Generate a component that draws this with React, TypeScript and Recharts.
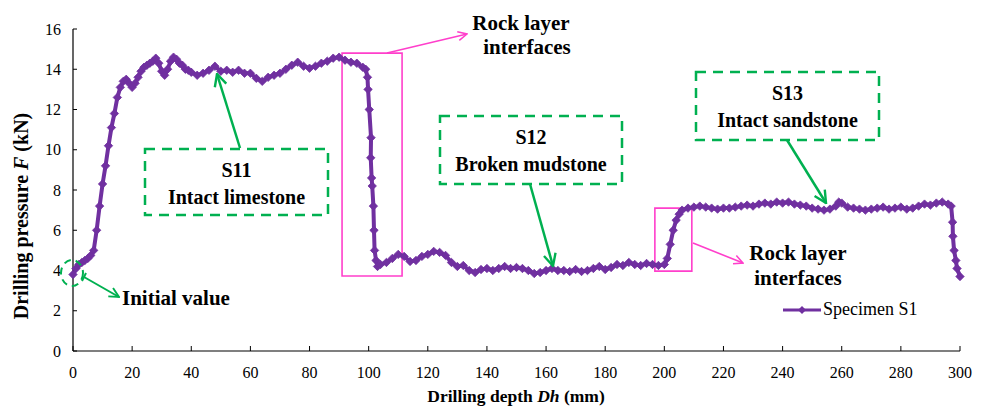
import React from 'react';
import { LineChart, Line, XAxis, YAxis, ReferenceArea, Legend } from 'recharts';

// drilling depth Dh (mm)
const depth = [
    0, 1, 2, 3, 4, 5, 6, 7, 8, 9, 10, 11, 12, 13, 14, 15, 16, 17, 18, 19, 20, 21, 22, 23, 24, 25, 26, 27, 28, 29,
    30, 31, 32, 33, 34, 35, 36, 37, 38, 39, 40, 42, 44, 46, 48, 50, 52, 54, 56, 58, 60, 62, 64, 66, 68, 70, 72,
    74, 76, 78, 80, 82, 84, 86, 88, 90, 92, 94, 96, 98, 99, 99.6, 99.8, 100.2, 100.8, 100.7, 101, 101.2, 101.6,
    101.8, 102, 102.5, 103, 104, 106, 108, 110, 112, 114, 116, 118, 120, 122, 124, 126, 128, 130, 132, 134, 136,
    138, 140, 142, 144, 146, 148, 150, 152, 154, 156, 158, 160, 162, 164, 166, 168, 170, 172, 174, 176, 178, 180,
    182, 184, 186, 188, 190, 192, 194, 196, 198, 200, 201, 202, 203, 204, 205, 206, 208, 210, 212, 214, 216, 218,
    220, 222, 224, 226, 228, 230, 232, 234, 236, 238, 240, 242, 244, 246, 248, 250, 252, 254, 256, 258, 259, 260,
    262, 264, 266, 268, 270, 272, 274, 276, 278, 280, 282, 284, 286, 288, 290, 292, 294, 296, 297, 297.5, 297.6,
    298, 298.6, 299, 300,
];

// drilling pressure F (kN), specimen S1
const pressure = [
    3.8, 4.1, 4.3, 4.4, 4.5, 4.6, 4.75, 5.0, 6.0, 7.2, 8.3, 9.2, 10.2, 11.1, 11.8, 12.6, 13.1, 13.4, 13.5, 13.3,
    13.1, 13.3, 13.6, 13.9, 14.1, 14.2, 14.3, 14.4, 14.55, 14.3, 13.9, 13.7, 14.0, 14.4, 14.6, 14.5, 14.3, 14.2,
    14.0, 13.95, 13.85, 13.7, 13.8, 13.95, 14.15, 13.9, 13.95, 13.85, 13.95, 13.8, 13.8, 13.55, 13.4, 13.6, 13.7,
    13.8, 14.0, 14.2, 14.35, 14.15, 14.05, 14.15, 14.3, 14.4, 14.55, 14.6, 14.45, 14.35, 14.3, 14.1, 14.0, 13.6,
    13.0, 12.0, 10.6, 9.6, 8.6, 8.2, 7.2, 6.0, 5.0, 4.5, 4.2, 4.3, 4.4, 4.6, 4.8, 4.7, 4.45, 4.5, 4.7, 4.8, 4.95,
    4.9, 4.75, 4.4, 4.2, 4.25, 4.0, 3.9, 4.05, 4.1, 4.0, 4.1, 4.2, 4.1, 4.15, 4.1, 4.0, 3.85, 3.9, 4.0, 4.1, 4.0,
    4.0, 3.95, 4.05, 3.95, 4.0, 4.1, 4.2, 4.05, 4.15, 4.3, 4.25, 4.4, 4.3, 4.25, 4.35, 4.3, 4.25, 4.3, 4.6, 5.3,
    6.0, 6.5, 6.8, 7.0, 7.1, 7.15, 7.2, 7.15, 7.1, 7.05, 7.1, 7.1, 7.15, 7.2, 7.25, 7.2, 7.3, 7.35, 7.3, 7.4,
    7.35, 7.4, 7.3, 7.25, 7.2, 7.1, 7.05, 7.0, 7.05, 7.2, 7.4, 7.35, 7.15, 7.1, 7.05, 7.0, 7.05, 7.1, 7.15, 7.05,
    7.1, 7.15, 7.05, 7.1, 7.2, 7.3, 7.25, 7.35, 7.4, 7.3, 7.2, 6.4, 5.7, 5.0, 4.5, 4.1, 3.7,
];

const xTicks = [0, 20, 40, 60, 80, 100, 120, 140, 160, 180, 200, 220, 240, 260, 280, 300];
const yTicks = [0, 2, 4, 6, 8, 10, 12, 14, 16];

const seriesName = 'Specimen S1';
const data = depth.map((d, i) => ({ depth: d, pressure: pressure[i] }));

const PURPLE = '#7030A0';
const GREEN = '#00B050';
const PINK = '#FF3FCB';
const FONT = 'Liberation Serif, Times New Roman, serif';

const Diamond = (props: any) => {
    const { cx, cy } = props;
    if (cx == null || cy == null) return null;
    const s = 4.2;
    return (
        <polygon
            points={`${cx},${cy - s} ${cx + s},${cy} ${cx},${cy + s} ${cx - s},${cy}`}
            fill={PURPLE}
            stroke={PURPLE}
            strokeWidth={0.8}
        />
    );
};

const LegendBox = () => (
    <div style={{ display: 'flex', alignItems: 'center', fontFamily: FONT, fontSize: 18, color: '#000' }}>
        <svg width={40} height={12}>
            <line x1={1} y1={6} x2={39} y2={6} stroke={PURPLE} strokeWidth={3} />
            <polygon points="20,2 24,6 20,10 16,6" fill={PURPLE} />
        </svg>
        <span style={{ marginLeft: 1 }}>{seriesName}</span>
    </div>
);

const Box = ({ x, y, w, h, l1, l2 }: any) => (
    <g>
        <rect x={x} y={y} width={w} height={h} fill="#fff" stroke={GREEN} strokeWidth={2.5} strokeDasharray="10 7" />
        <text x={x + w / 2} y={y + 28} textAnchor="middle" fontSize={20} fontWeight="bold">
            {l1}
        </text>
        <text x={x + w / 2} y={y + 55} textAnchor="middle" fontSize={20} fontWeight="bold">
            {l2}
        </text>
    </g>
);

// annotations drawn on top of the plot (pixel positions)
const Overlay = () => (
    <svg
        width={986}
        height={412}
        style={{ position: 'absolute', left: 0, top: 0, pointerEvents: 'none', fontFamily: FONT }}
    >
        <defs>
            <marker id="ag" viewBox="0 0 10 10" refX={9} refY={5} markerWidth={6} markerHeight={6} orient="auto">
                <path d="M1,1 L9,5 L1,9" fill="none" stroke={GREEN} strokeWidth={1.6} />
            </marker>
            <marker id="ap" viewBox="0 0 10 10" refX={9} refY={5} markerWidth={7} markerHeight={7} orient="auto">
                <path d="M1,1 L9,5 L1,9" fill="none" stroke={PINK} strokeWidth={1.4} />
            </marker>
        </defs>

        <Box x={145} y={149} w={183} h={66} l1="S11" l2="Intact limestone" />
        <Box x={440} y={116} w={182} h={68} l1="S12" l2="Broken mudstone" />
        <Box x={696} y={72} w={183} h={68} l1="S13" l2="Intact sandstone" />

        <line x1={240} y1={148} x2={217} y2={74} stroke={GREEN} strokeWidth={2.5} markerEnd="url(#ag)" />
        <line x1={530} y1={184} x2={553} y2={266} stroke={GREEN} strokeWidth={2.5} markerEnd="url(#ag)" />
        <line x1={787} y1={140} x2={826} y2={203} stroke={GREEN} strokeWidth={2.5} markerEnd="url(#ag)" />

        <ellipse cx={72} cy={273} rx={11} ry={13} fill="none" stroke={GREEN} strokeWidth={2} strokeDasharray="7 5" />
        <line x1={84} y1={277} x2={119} y2={297} stroke={GREEN} strokeWidth={2} markerEnd="url(#ag)" />
        <line x1={82} y1={281} x2={86} y2={273} stroke={GREEN} strokeWidth={2} />
        <text x={122} y={305} fontSize={21} fontWeight="bold">
            Initial value
        </text>

        <line x1={387} y1={53} x2={467} y2={34} stroke={PINK} strokeWidth={1.6} markerEnd="url(#ap)" />
        <text x={521} y={30} textAnchor="middle" fontSize={21} fontWeight="bold">
            Rock layer
        </text>
        <text x={527} y={54} textAnchor="middle" fontSize={21} fontWeight="bold">
            interfaces
        </text>

        <line x1={693} y1={243} x2={743} y2={263} stroke={PINK} strokeWidth={1.6} markerEnd="url(#ap)" />
        <text x={798} y={260} textAnchor="middle" fontSize={21} fontWeight="bold">
            Rock layer
        </text>
        <text x={798} y={285} textAnchor="middle" fontSize={21} fontWeight="bold">
            interfaces
        </text>

        <text x={516} y={402} textAnchor="middle" fontSize={17.5} fontWeight="bold">
            Drilling depth <tspan fontStyle="italic">Dh</tspan> (mm)
        </text>
        <text
            x={0}
            y={0}
            transform="translate(28, 216) rotate(-90)"
            textAnchor="middle"
            fontSize={20}
            fontWeight="bold"
        >
            Drilling pressure <tspan fontStyle="italic">F</tspan> (kN)
        </text>
    </svg>
);

export default function App() {
    return (
        <div style={{ position: 'absolute', left: 0, top: 0, width: 986, height: 412, background: '#fff' }}>
            <LineChart
                width={986}
                height={412}
                data={data}
                margin={{ top: 29, right: 26, bottom: 21, left: 43 }}
                style={{ fontFamily: FONT }}
            >
                <XAxis
                    dataKey="depth"
                    type="number"
                    domain={[0, 300]}
                    ticks={xTicks}
                    height={40}
                    tickSize={-5}
                    tickMargin={21}
                    stroke="#000"
                    tick={{ fill: '#000', fontSize: 16, fontFamily: FONT }}
                    axisLine={{ stroke: '#000', strokeWidth: 1.2 }}
                    tickLine={{ stroke: '#000' }}
                />
                <YAxis
                    type="number"
                    domain={[0, 16]}
                    ticks={yTicks}
                    width={30}
                    tickSize={-4}
                    tickMargin={16}
                    stroke="#000"
                    tick={{ fill: '#000', fontSize: 16, fontFamily: FONT }}
                    axisLine={{ stroke: '#000', strokeWidth: 1.2 }}
                    tickLine={{ stroke: '#000' }}
                />
                <ReferenceArea x1={91} x2={111.3} y1={3.73} y2={14.8} fill="none" stroke={PINK} strokeWidth={1.6} />
                <ReferenceArea x1={196.8} x2={209.3} y1={3.97} y2={7.1} fill="none" stroke={PINK} strokeWidth={1.6} />
                <Line
                    type="linear"
                    dataKey="pressure"
                    name={seriesName}
                    stroke={PURPLE}
                    strokeWidth={4}
                    dot={<Diamond />}
                    activeDot={false}
                    isAnimationActive={false}
                />
                <Legend
                    layout="horizontal"
                    verticalAlign="middle"
                    align="center"
                    content={<LegendBox />}
                    wrapperStyle={{ left: 782, top: 299, width: 'auto' }}
                />
            </LineChart>
            <Overlay />
        </div>
    );
}
